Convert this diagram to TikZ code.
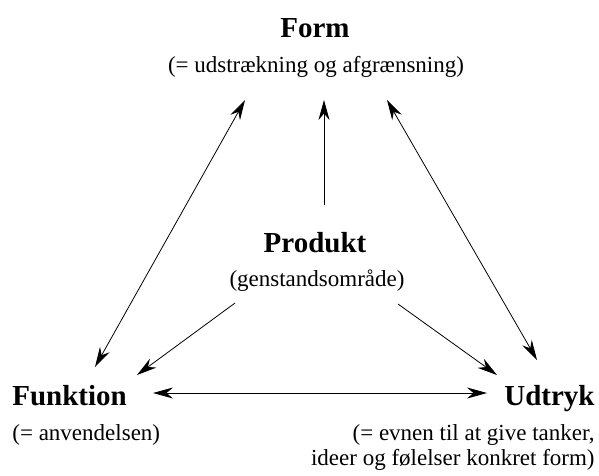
\documentclass[tikz,border=0pt]{standalone}
\usepackage{fontspec}
\setmainfont{Liberation Serif}
\usetikzlibrary{arrows.meta, positioning}

\begin{document}
\begin{tikzpicture}[x=1pt, y=-1pt, >={Stealth[length=20pt, width=11pt]}, line width=0.8pt,
    head/.style={font=\fontsize{29}{32}\selectfont\bfseries, inner sep=0pt},
    note/.style={font=\fontsize{23}{25}\selectfont, inner sep=0pt}]

    \useasboundingbox (0,0) rectangle (599,475);

    \node[head, anchor=base] (Form) at (315,37) {Form};
    \node[note, anchor=base] (FormTxt) at (316,72) {(= udstrækning og afgrænsning)};
    \node[head, anchor=base] (Prod) at (315,252) {Produkt};
    \node[note, anchor=base] (ProdTxt) at (317,286) {(genstandsområde)};
    \node[head, anchor=base west] (Funk) at (12,405) {Funktion};
    \node[note, anchor=base west] (FunkTxt) at (12,440) {(= anvendelsen)};
    \node[head, anchor=base east] (Udtr) at (595,405) {Udtryk};
    \node[note, anchor=base east, align=right] (UdtrTxt) at (595,465) {(= evnen til at give tanker,\\ideer og følelser konkret form)};

    \draw[<->] ([shift={(-71,28)}]FormTxt.base) -- ([shift={(83,-38)}]Funk.base west);
    \draw[<->] ([shift={(71,28)}]FormTxt.base) -- ([shift={(-58,-45)}]Udtr.base east);
    \draw[->] ([shift={(9,-47)}]Prod.base) -- ([shift={(8,28)}]FormTxt.base);
    \draw[->] ([shift={(-82,17)}]ProdTxt.base) -- ([shift={(125,-30)}]Funk.base west);
    \draw[->] ([shift={(81,18)}]ProdTxt.base) -- ([shift={(-98,-30)}]Udtr.base east);
    \draw[<->] ([shift={(141,-12)}]Funk.base west) -- ([shift={(-108,-12)}]Udtr.base east);
\end{tikzpicture}
\end{document}
